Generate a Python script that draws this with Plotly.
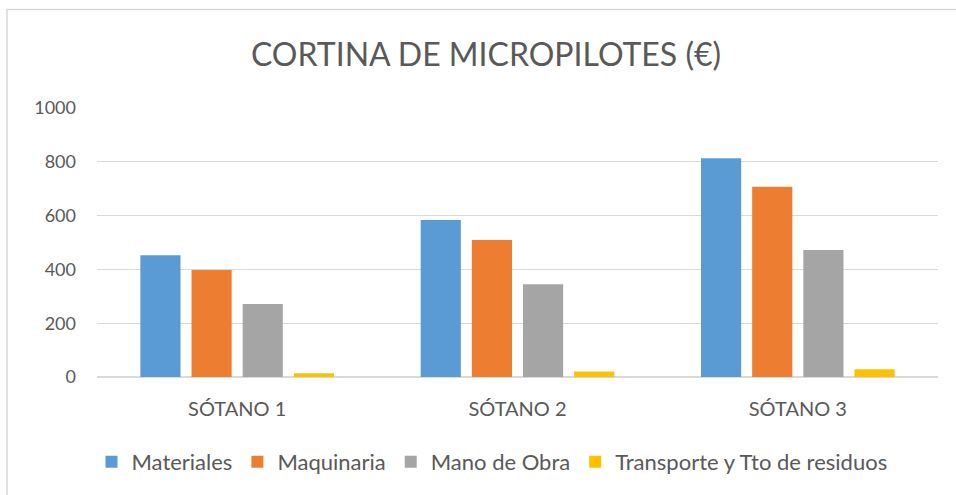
import plotly.graph_objects as go

# Cost breakdown per basement level
categories = ["SÓTANO 1", "SÓTANO 2", "SÓTANO 3"]
materiales = [453, 584, 813]
maquinaria = [398, 509, 707]
mano_obra = [271, 345, 472]
transporte = [14, 20, 29]

series_names = ["Materiales", "Maquinaria", "Mano de Obra", "Transporte y Tto de residuos"]
series_values = [materiales, maquinaria, mano_obra, transporte]
series_colors = ["#5B9BD5", "#ED7D31", "#A5A5A5", "#FFC000"]

y_ticks = [0, 200, 400, 600, 800, 1000]

FONT = "Lato, 'Open Sans', sans-serif"
TEXT = "#595959"
GRID = "#D9D9D9"

fig = go.Figure()
for name, vals, col in zip(series_names, series_values, series_colors):
    fig.add_trace(go.Bar(name=name, x=categories, y=vals, marker_color=col,
                         marker_line_width=0))

W, H = 956, 495
ml, mr, mt, mb = 97, 18, 108, 118
pw, ph = W - ml - mr, H - mt - mb

def px_x(x):
    return (x - ml) / pw

def px_y(y):
    return (H - mb - y) / ph

fig.update_layout(
    width=W, height=H,
    margin=dict(l=ml, r=mr, t=mt, b=mb, autoexpand=False),
    paper_bgcolor="white", plot_bgcolor="white",
    font=dict(family=FONT, color=TEXT),
    title=dict(text="CORTINA DE MICROPILOTES (€)", x=486 / W, xref="container", xanchor="center",
               y=1 - 55 / H, yanchor="middle", yref="container",
               font=dict(size=32, color=TEXT, family=FONT)),
    barmode="group", bargap=0.27, bargroupgap=0.215,
    showlegend=True,
    legend=dict(orientation="h", x=px_x(492), xanchor="center", xref="paper",
                y=px_y(462), yanchor="middle", font=dict(size=22, color=TEXT),
                itemwidth=30, traceorder="normal"),
    xaxis=dict(showgrid=False, showline=False, ticks="", ticklabelstandoff=18,
               tickangle=0, tickfont=dict(size=20, color=TEXT)),
    yaxis=dict(range=[0, 1000], tickvals=y_ticks, showgrid=True, gridcolor=GRID, gridwidth=1,
               zeroline=True, zerolinecolor=GRID, zerolinewidth=1.5, showline=False,
               ticks="", ticklabelstandoff=20, tickfont=dict(size=18, color=TEXT)),
    shapes=[dict(type="rect", xref="paper", yref="paper",
                 x0=px_x(7), x1=px_x(W + 5), y0=px_y(H + 5), y1=px_y(9.5),
                 line=dict(color=GRID, width=1.5), fillcolor="rgba(0,0,0,0)", layer="below")],
)

fig.write_html("out.html")
